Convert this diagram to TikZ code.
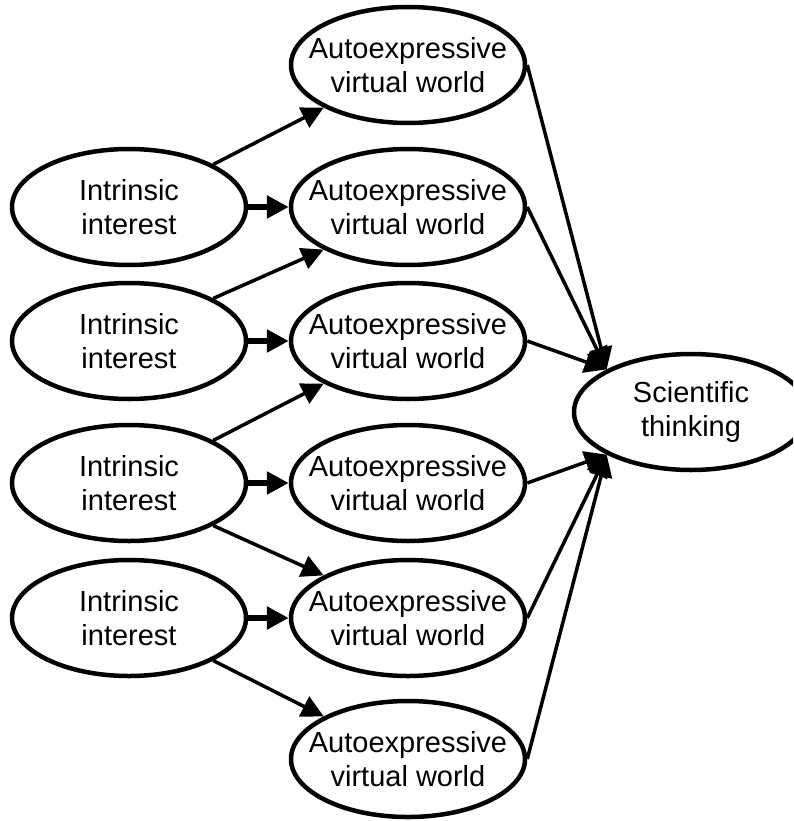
\documentclass[tikz,border=0pt]{standalone}
\usepackage{fontspec}
\setmainfont{Liberation Sans}
\usetikzlibrary{shapes.geometric,arrows.meta}

\begin{document}
\begin{tikzpicture}[x=1pt, y=-1pt, line join=round,
    >={Triangle[length=22pt,width=22pt]},
    font=\fontsize{29}{34}\selectfont,
    oval/.style={ellipse, draw, line width=4.5pt, minimum width=234pt, minimum height=116pt,
        inner xsep=-20pt, inner ysep=0pt, align=center},
    link/.style={->, line width=3.5pt},
    shortlink/.style={->, line width=6pt}]
    \path[use as bounding box, clip] (0,0) rectangle (793,821);
    % intrinsic interest
    \node[oval] (i1) at (129,207) {Intrinsic\\interest};
    \node[oval] (i2) at (129,341) {Intrinsic\\interest};
    \node[oval] (i3) at (129,483) {Intrinsic\\interest};
    \node[oval] (i4) at (129,618) {Intrinsic\\interest};
    % virtual worlds
    \foreach \y [count=\k] in {65,207,341,483,618,759}
        \node[oval] (w\k) at (408,\y) {Autoexpressive\\virtual world};
    \node[oval] (sci) at (691,412) {Scientific\\thinking};
    % links
    \draw[link] (i1.north east) -- (w1.south west);
    \draw[shortlink] (i1) -- (w2);
    \draw[link] (i2.north east) -- (w2.south west);
    \draw[shortlink] (i2) -- (w3);
    \draw[link] (i3.north east) -- (w3.south west);
    \draw[shortlink] (i3) -- (w4);
    \draw[link] (i3.south east) -- (w5.north west);
    \draw[shortlink] (i4) -- (w5);
    \draw[link] (i4.south east) -- (w6.north west);
    \foreach \k in {1,2,3}
        \draw[link] (w\k.east) -- (sci.north west);
    \foreach \k in {4,5,6}
        \draw[link] (w\k.east) -- (sci.south west);
\end{tikzpicture}
\end{document}
